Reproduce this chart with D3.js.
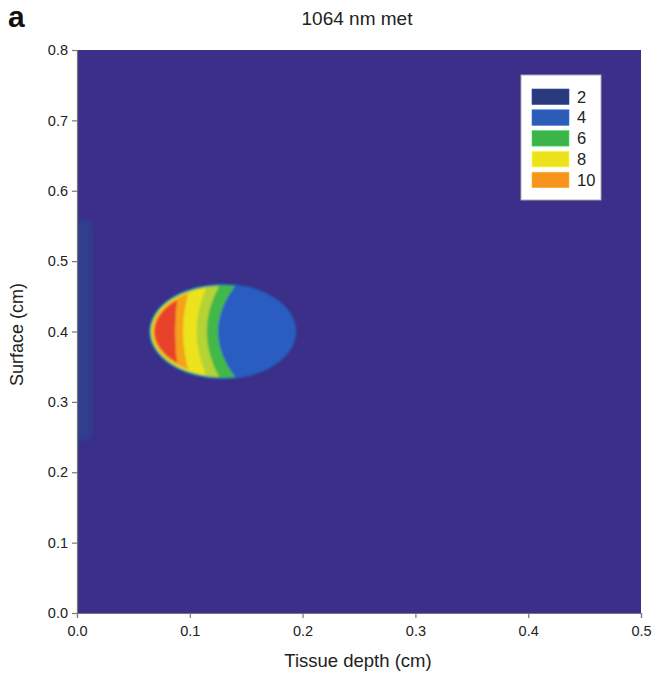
<!DOCTYPE html>
<html><head><meta charset="utf-8">
<script src="https://cdn.jsdelivr.net/npm/d3@7"></script>
<style>body{margin:0;background:#fff}text{font-family:"Liberation Sans",Arial,sans-serif}</style>
</head><body>
<svg id="c" width="665" height="682"></svg>
<script>
// ---- data ----
const xTicks = [0.0, 0.1, 0.2, 0.3, 0.4, 0.5];
const yTicks = [0.0, 0.1, 0.2, 0.3, 0.4, 0.5, 0.6, 0.7, 0.8];
const legendLevels = [2, 4, 6, 8, 10];
const legendColors = ["#2a3b7d", "#2b5cb8", "#3bb44a", "#ede31c", "#f7941e"];
// contour bands of the heated zone (level, colour, depth of boundary at centre line / at zone edge, cm)
const bandLevels = [2, 4, 6, 7, 8, 10, 12];
const bandColors = ["#2e3f8e", "#2c5dc2", "#43b84a", "#b5d334", "#ece31f", "#f6a11f", "#e8432b"];
const bandDepthCenter = [0.30, 0.30, 0.125, 0.115, 0.106, 0.094, 0.087];
const bandDepthEdge   = [0.30, 0.30, 0.143, 0.128, 0.117, 0.102, 0.091];
// heated zone centre / radii (cm)
const zoneCenter = [0.129, 0.400];
const zoneRadius = [0.063, 0.064];
// weak surface stripe (level 2) at depth 0: depth range, surface range (cm)
const stripeDepth = [0.0, 0.013];
const stripeSurface = [0.245, 0.56];

// ---- layout ----
const W = 665, H = 682;
const m = {left: 77, top: 50, right: 24, bottom: 69};
const pw = W - m.left - m.right, ph = H - m.top - m.bottom;
const svg = d3.select("#c");
const x = d3.scaleLinear().domain([0, 0.5]).range([m.left, m.left + pw]);
const y = d3.scaleLinear().domain([0, 0.8]).range([m.top + ph, m.top]);
const bgColor = "#3b2f8a";
const rimPx = [3.5, 2.2, 1.2, 0.4, -0.3, -1.4, -3];
const font = '"Liberation Sans",Arial,sans-serif';

const defs = svg.append("defs");
defs.append("clipPath").attr("id", "plotClip").append("rect")
  .attr("x", m.left).attr("y", m.top).attr("width", pw).attr("height", ph);
const blur = defs.append("filter").attr("id", "blur").attr("x", "-20%").attr("y", "-20%").attr("width", "140%").attr("height", "140%");
blur.append("feGaussianBlur").attr("stdDeviation", 1.3);
const blur2 = defs.append("filter").attr("id", "blur2").attr("x", "-100%").attr("y", "-20%").attr("width", "300%").attr("height", "140%");
blur2.append("feGaussianBlur").attr("stdDeviation", 2.2);

const plot = svg.append("g").attr("clip-path", "url(#plotClip)");
plot.append("rect").attr("x", m.left).attr("y", m.top).attr("width", pw).attr("height", ph).attr("fill", bgColor);

// surface stripe
plot.append("rect")
  .attr("x", x(stripeDepth[0]) - 8).attr("y", y(stripeSurface[1]))
  .attr("width", x(stripeDepth[1]) - x(stripeDepth[0]) + 8)
  .attr("height", y(stripeSurface[0]) - y(stripeSurface[1]))
  .attr("rx", 7)
  .attr("fill", bandColors[0]).attr("opacity", 0.9).attr("filter", "url(#blur2)");

// heated zone
const zcx = x(zoneCenter[0]), zcy = y(zoneCenter[1]);
const zrx = x(zoneCenter[0] + zoneRadius[0]) - zcx;
const zry = y(zoneCenter[1] - zoneRadius[1]) - zcy;
const zone = plot.append("g").attr("filter", "url(#blur)");
bandLevels.forEach((lv, i) => {
  const id = "zc" + i;
  defs.append("clipPath").attr("id", id).append("ellipse")
    .attr("cx", zcx).attr("cy", zcy)
    .attr("rx", zrx + rimPx[i]).attr("ry", zry + rimPx[i]);
  const yt = zoneCenter[1] + zoneRadius[1] * 1.1, yb = zoneCenter[1] - zoneRadius[1] * 1.1;
  const e = bandDepthEdge[i], c = bandDepthCenter[i];
  const p = d3.path();
  p.moveTo(x(0) - 10, y(yt));
  p.lineTo(x(e), y(yt));
  p.quadraticCurveTo(x(2 * c - e), y(zoneCenter[1]), x(e), y(yb));
  p.lineTo(x(0) - 10, y(yb));
  p.closePath();
  zone.append("path").attr("d", p.toString()).attr("fill", bandColors[i])
    .attr("clip-path", `url(#${id})`);
});

// ---- axes ----
const axisColor = "#777";
const xAxis = svg.append("g").attr("transform", `translate(0,${m.top + ph})`)
  .call(d3.axisBottom(x).tickValues(xTicks).tickFormat(d3.format(".1f")).tickSize(5).tickPadding(8));
const yAxis = svg.append("g").attr("transform", `translate(${m.left},0)`)
  .call(d3.axisLeft(y).tickValues(yTicks).tickFormat(d3.format(".1f")).tickSize(5).tickPadding(4));
[xAxis, yAxis].forEach(a => {
  a.select(".domain").attr("stroke", axisColor).attr("stroke-width", 1.2);
  a.selectAll(".tick line").attr("stroke", axisColor).attr("stroke-width", 1.2);
  a.selectAll(".tick text").attr("fill", "#222").attr("font-size", 14.5)
    .style("font-family", font);
});

// ---- text ----
svg.append("text").attr("x", 8).attr("y", 27).attr("font-size", 30).attr("font-weight", "bold").attr("fill", "#111").text("a");
svg.append("text").attr("x", 357).attr("y", 25).attr("text-anchor", "middle").attr("font-size", 19).attr("fill", "#222").text("1064 nm met");
svg.append("text").attr("x", 358).attr("y", 667).attr("text-anchor", "middle").attr("font-size", 18.5).attr("fill", "#222").text("Tissue depth (cm)");
svg.append("text").attr("transform", `translate(23,${m.top + ph / 2 + 3}) rotate(-90)`).attr("text-anchor", "middle").attr("font-size", 18).attr("fill", "#222").text("Surface (cm)");

// ---- legend ----
const lg = svg.append("g");
lg.append("rect").attr("x", 521).attr("y", 75).attr("width", 80).attr("height", 125)
  .attr("fill", "#fff").attr("stroke", "#aaa").attr("stroke-width", 1);
legendLevels.forEach((lv, i) => {
  const yy = 89 + i * 20.8;
  lg.append("rect").attr("x", 532).attr("y", yy).attr("width", 37).attr("height", 15.5)
    .attr("fill", legendColors[i]).attr("stroke", d3.color(legendColors[i]).brighter(0.6)).attr("stroke-width", 0.6);
  lg.append("text").attr("x", 577).attr("y", yy + 13.5).attr("font-size", 16.5).attr("fill", "#222").text(lv);
});
</script>
</body></html>
